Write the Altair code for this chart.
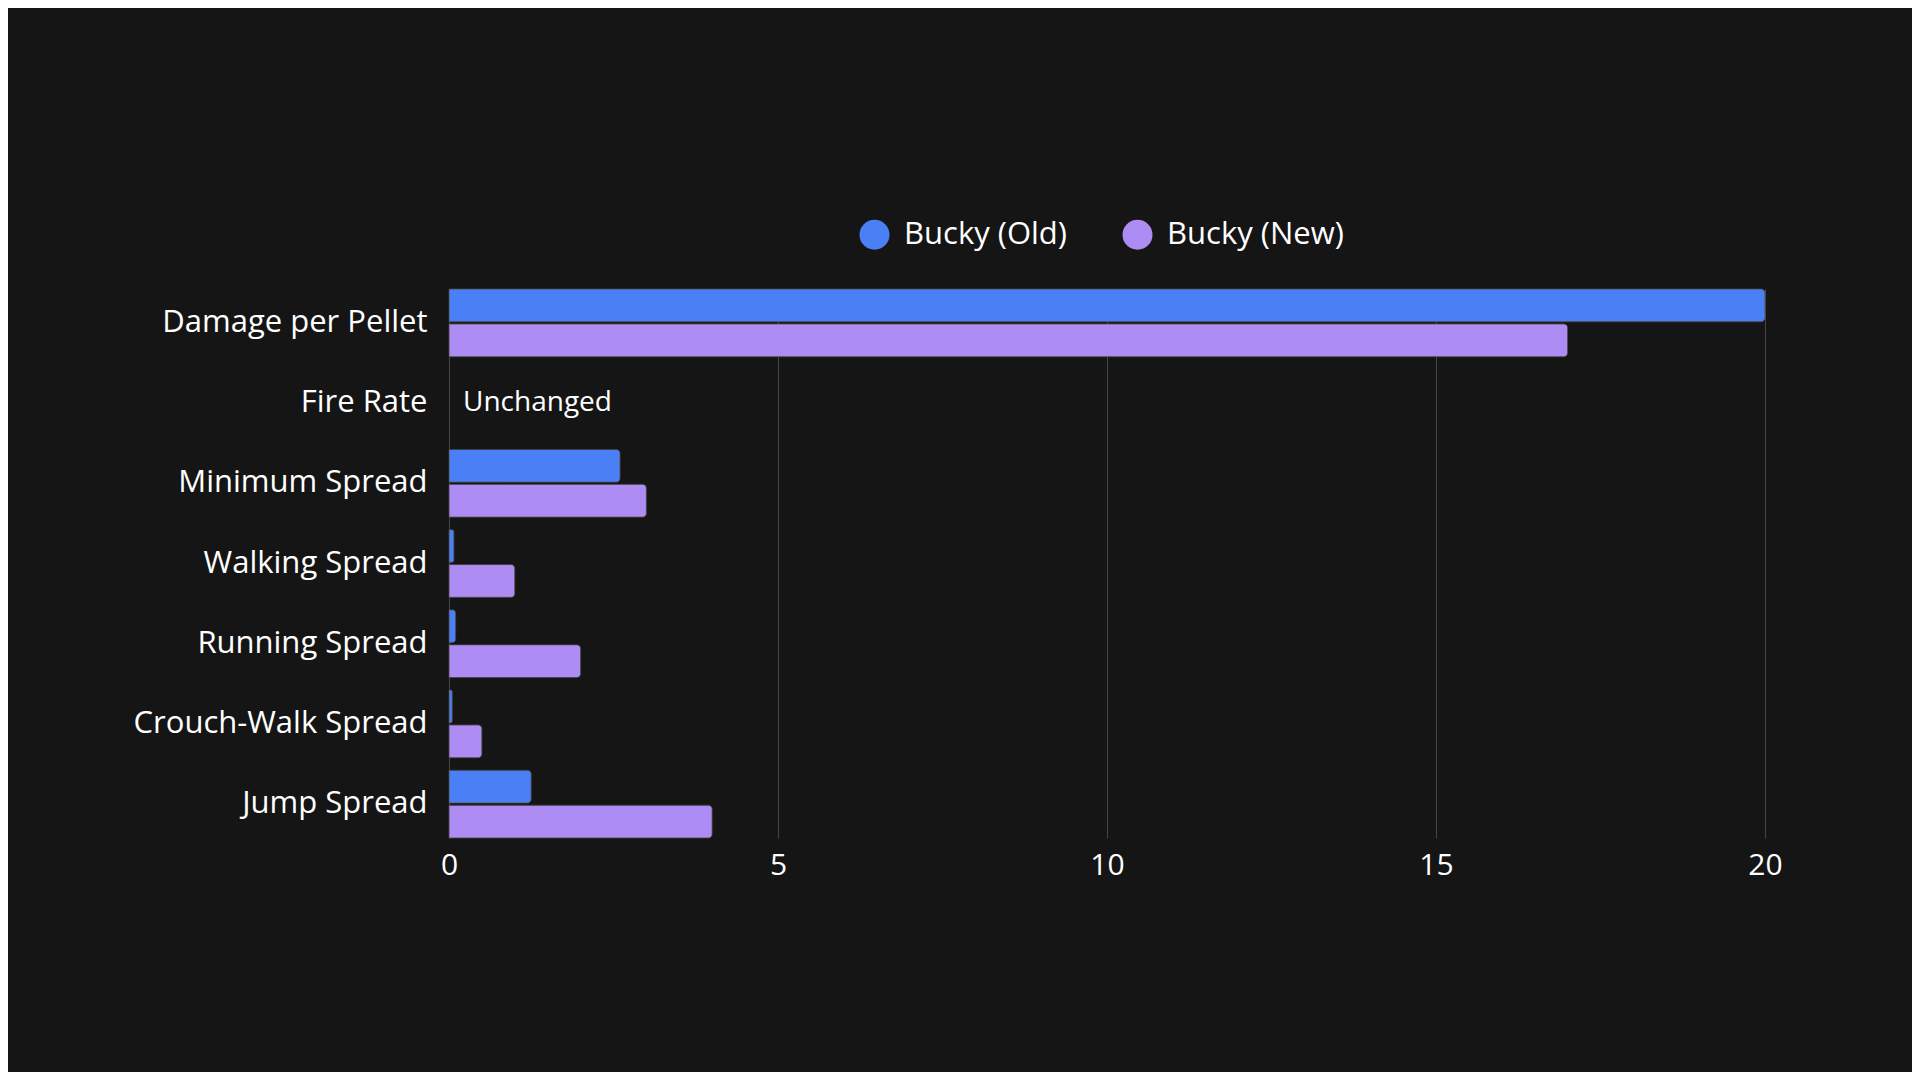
import altair as alt
import pandas as pd

categories = ["Damage per Pellet", "Fire Rate", "Minimum Spread", "Walking Spread",
              "Running Spread", "Crouch-Walk Spread", "Jump Spread"]
series = ["Bucky (Old)", "Bucky (New)"]
old_values = [20, None, 2.6, 0.075, 0.1, 0.05, 1.25]
new_values = [17, None, 3.0, 1.0, 2.0, 0.5, 4.0]
notes = {"Fire Rate": "Unchanged"}
x_ticks = [0, 5, 10, 15, 20]
colors = ["#4a7ff5", "#ad8cf4"]

rows = []
for c, o, n in zip(categories, old_values, new_values):
    if o is not None:
        rows.append({"category": c, "series": series[0], "value": o})
    if n is not None:
        rows.append({"category": c, "series": series[1], "value": n})
bars_df = pd.DataFrame(rows)
notes_df = pd.DataFrame([{"category": k, "note": v, "value": 0} for k, v in notes.items()])

FONT = "Open Sans"

y_scale = alt.Scale(domain=categories, paddingInner=0.155, paddingOuter=0)
y_enc = alt.Y("category:N", sort=categories, scale=y_scale,
              axis=alt.Axis(title=None, labelFontSize=31, labelColor="#ffffff", labelFont=FONT,
                            labelLimit=0, ticks=False, domain=False, labelPadding=22, grid=False))
x_scale = alt.Scale(domain=[0, 20], nice=False)

bars = alt.Chart(bars_df).mark_bar(cornerRadiusEnd=4, stroke="#555555", strokeWidth=0.6).encode(
    x=alt.X("value:Q", scale=x_scale,
            axis=alt.Axis(title=None, values=x_ticks, format="d", labelFontSize=30, labelColor="#ffffff",
                          labelFont=FONT, ticks=False, domain=False, grid=True, gridColor="#444444",
                          gridWidth=1, labelPadding=12, labelFlush=False)),
    y=y_enc,
    yOffset=alt.YOffset("series:N", sort=series, scale=alt.Scale(domain=series, paddingInner=0.06, paddingOuter=0)),
    color=alt.Color("series:N", sort=series, scale=alt.Scale(domain=series, range=colors),
                    legend=alt.Legend(title=None, orient="none", direction="horizontal", legendX=410, legendY=-70,
                                      symbolType="circle", symbolSize=900, symbolStrokeWidth=0,
                                      labelFontSize=31, labelColor="#ffffff", labelFont=FONT, labelLimit=0,
                                      labelOffset=14, columnPadding=55, padding=0)),
)

text = alt.Chart(notes_df).mark_text(align="left", baseline="middle", dx=14, fontSize=28, font=FONT,
                                     color="#ffffff").encode(
    x=alt.X("value:Q", scale=x_scale),
    y=alt.Y("category:N", sort=categories, scale=y_scale),
    text="note:N",
)

chart = alt.layer(bars, text).properties(
    width=1316, height=549,
    autosize=alt.AutoSizeParams(type="none"),
    padding={"left": 441, "top": 281, "right": 147, "bottom": 234},
    background="#151515",
).configure_view(stroke=None).configure_axisY(grid=False)

chart.save("out.html", embed_options={"renderer": "svg", "actions": False})
